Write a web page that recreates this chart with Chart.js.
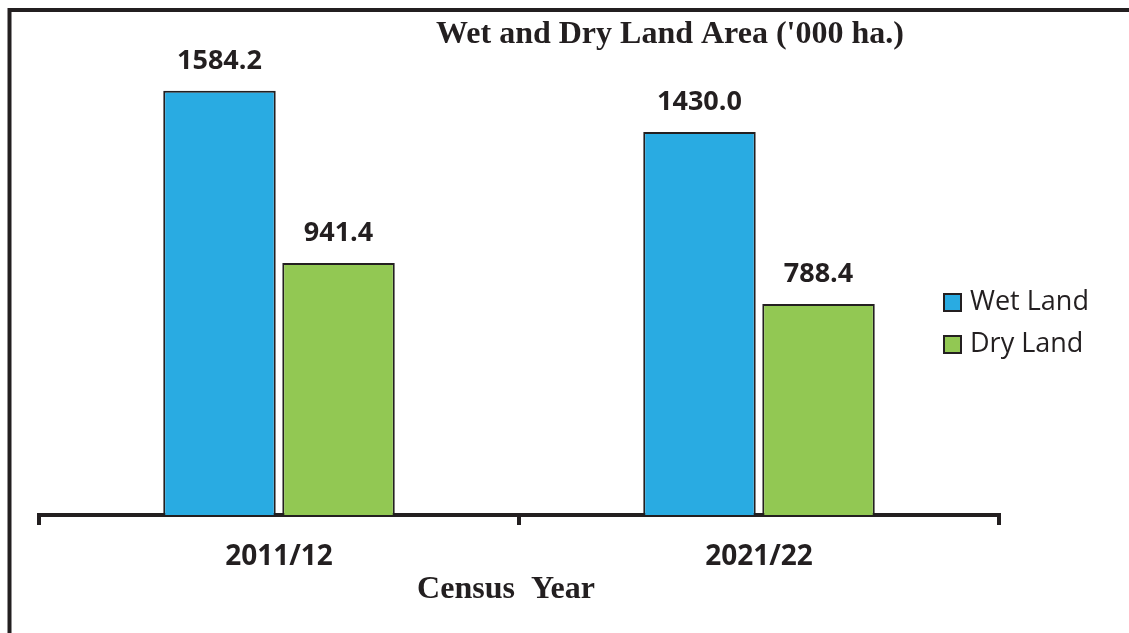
<!DOCTYPE html>
<html>
<head>
<meta charset="utf-8">
<title>Wet and Dry Land Area</title>
<script src="https://cdn.jsdelivr.net/npm/chart.js@4"></script>
<style>
  html, body { margin: 0; padding: 0; background: #fff; }
  #wrap { width: 1129px; height: 633px; position: relative; }
</style>
</head>
<body>
<div id="wrap"><canvas id="chart"></canvas></div>
<script>
// === Dados ===
const categories = ['2011/12', '2021/22'];
const seriesNames = ['Wet Land', 'Dry Land'];
const wetLand = [1584.2, 1430.0];
const dryLand = [941.4, 788.4];
const chartTitle = "Wet and Dry Land Area ('000 ha.)";
const axisTitle = 'Census  Year';

const ink = '#231f20';
const colors = ['#29abe2', '#92c853'];

// desenha moldura, titulo, rotulos de valor e legenda
const decor = {
  id: 'decor',
  afterDraw(chart) {
    const ctx = chart.ctx;
    ctx.save();

    // moldura (esquerda + topo)
    ctx.strokeStyle = ink;
    ctx.lineWidth = 4;
    ctx.beginPath();
    ctx.moveTo(9.5, 633);
    ctx.lineTo(9.5, 10);
    ctx.lineTo(1129, 10);
    ctx.stroke();

    ctx.fillStyle = ink;
    ctx.textAlign = 'center';
    ctx.textBaseline = 'middle';

    // titulo
    ctx.font = 'bold 32px "Liberation Serif", "Times New Roman", serif';
    ctx.fillText(chartTitle, 670, 35);

    // titulo do eixo
    ctx.fillText(axisTitle, 506, 590);

    // valores acima das barras
    ctx.font = 'bold 27px "Open Sans", sans-serif';
    ctx.textBaseline = 'alphabetic';
    chart.data.datasets.forEach((ds, di) => {
      chart.getDatasetMeta(di).data.forEach((bar, i) => {
        ctx.fillText(ds.data[i].toFixed(1), bar.x, bar.y - 22);
      });
    });

    // legenda
    ctx.textAlign = 'left';
    ctx.textBaseline = 'middle';
    ctx.font = '27px "Open Sans", sans-serif';
    chart.data.datasets.forEach((ds, di) => {
      const cy = 302 + di * 42;
      ctx.fillStyle = ds.backgroundColor;
      ctx.fillRect(944, cy - 8, 17, 17);
      ctx.strokeStyle = ink;
      ctx.lineWidth = 2;
      ctx.strokeRect(944, cy - 8, 17, 17);
      ctx.fillStyle = ink;
      ctx.fillText(ds.label, 970, cy);
    });

    ctx.restore();
  }
};

const ctx = document.getElementById('chart').getContext('2d');
new Chart(ctx, {
  type: 'bar',
  data: {
    labels: categories,
    datasets: [
      { label: seriesNames[0], data: wetLand, backgroundColor: colors[0] },
      { label: seriesNames[1], data: dryLand, backgroundColor: colors[1] }
    ]
  },
  options: {
    responsive: true,
    maintainAspectRatio: false,
    animation: false,
    layout: { padding: { top: 33, left: 39, right: 130, bottom: 0 } },
    datasets: {
      bar: {
        categoryPercentage: 0.496,
        barPercentage: 0.945,
        borderWidth: 2,
        borderColor: ink
      }
    },
    plugins: {
      legend: { display: false },
      title: { display: false },
      tooltip: { enabled: false }
    },
    scales: {
      x: {
        afterFit(scale) { scale.height = 118; },
        grid: {
          drawOnChartArea: false,
          drawTicks: true,
          tickLength: 10,
          lineWidth: 4,
          color: ink,
          offset: true
        },
        border: { display: true, width: 4, color: ink },
        ticks: {
          padding: 15,
          color: ink,
          font: { family: '"Open Sans", sans-serif', size: 28, weight: 'bold' }
        }
      },
      y: {
        display: false,
        min: 0,
        max: 1800
      }
    }
  },
  plugins: [decor]
});
</script>
</body>
</html>
